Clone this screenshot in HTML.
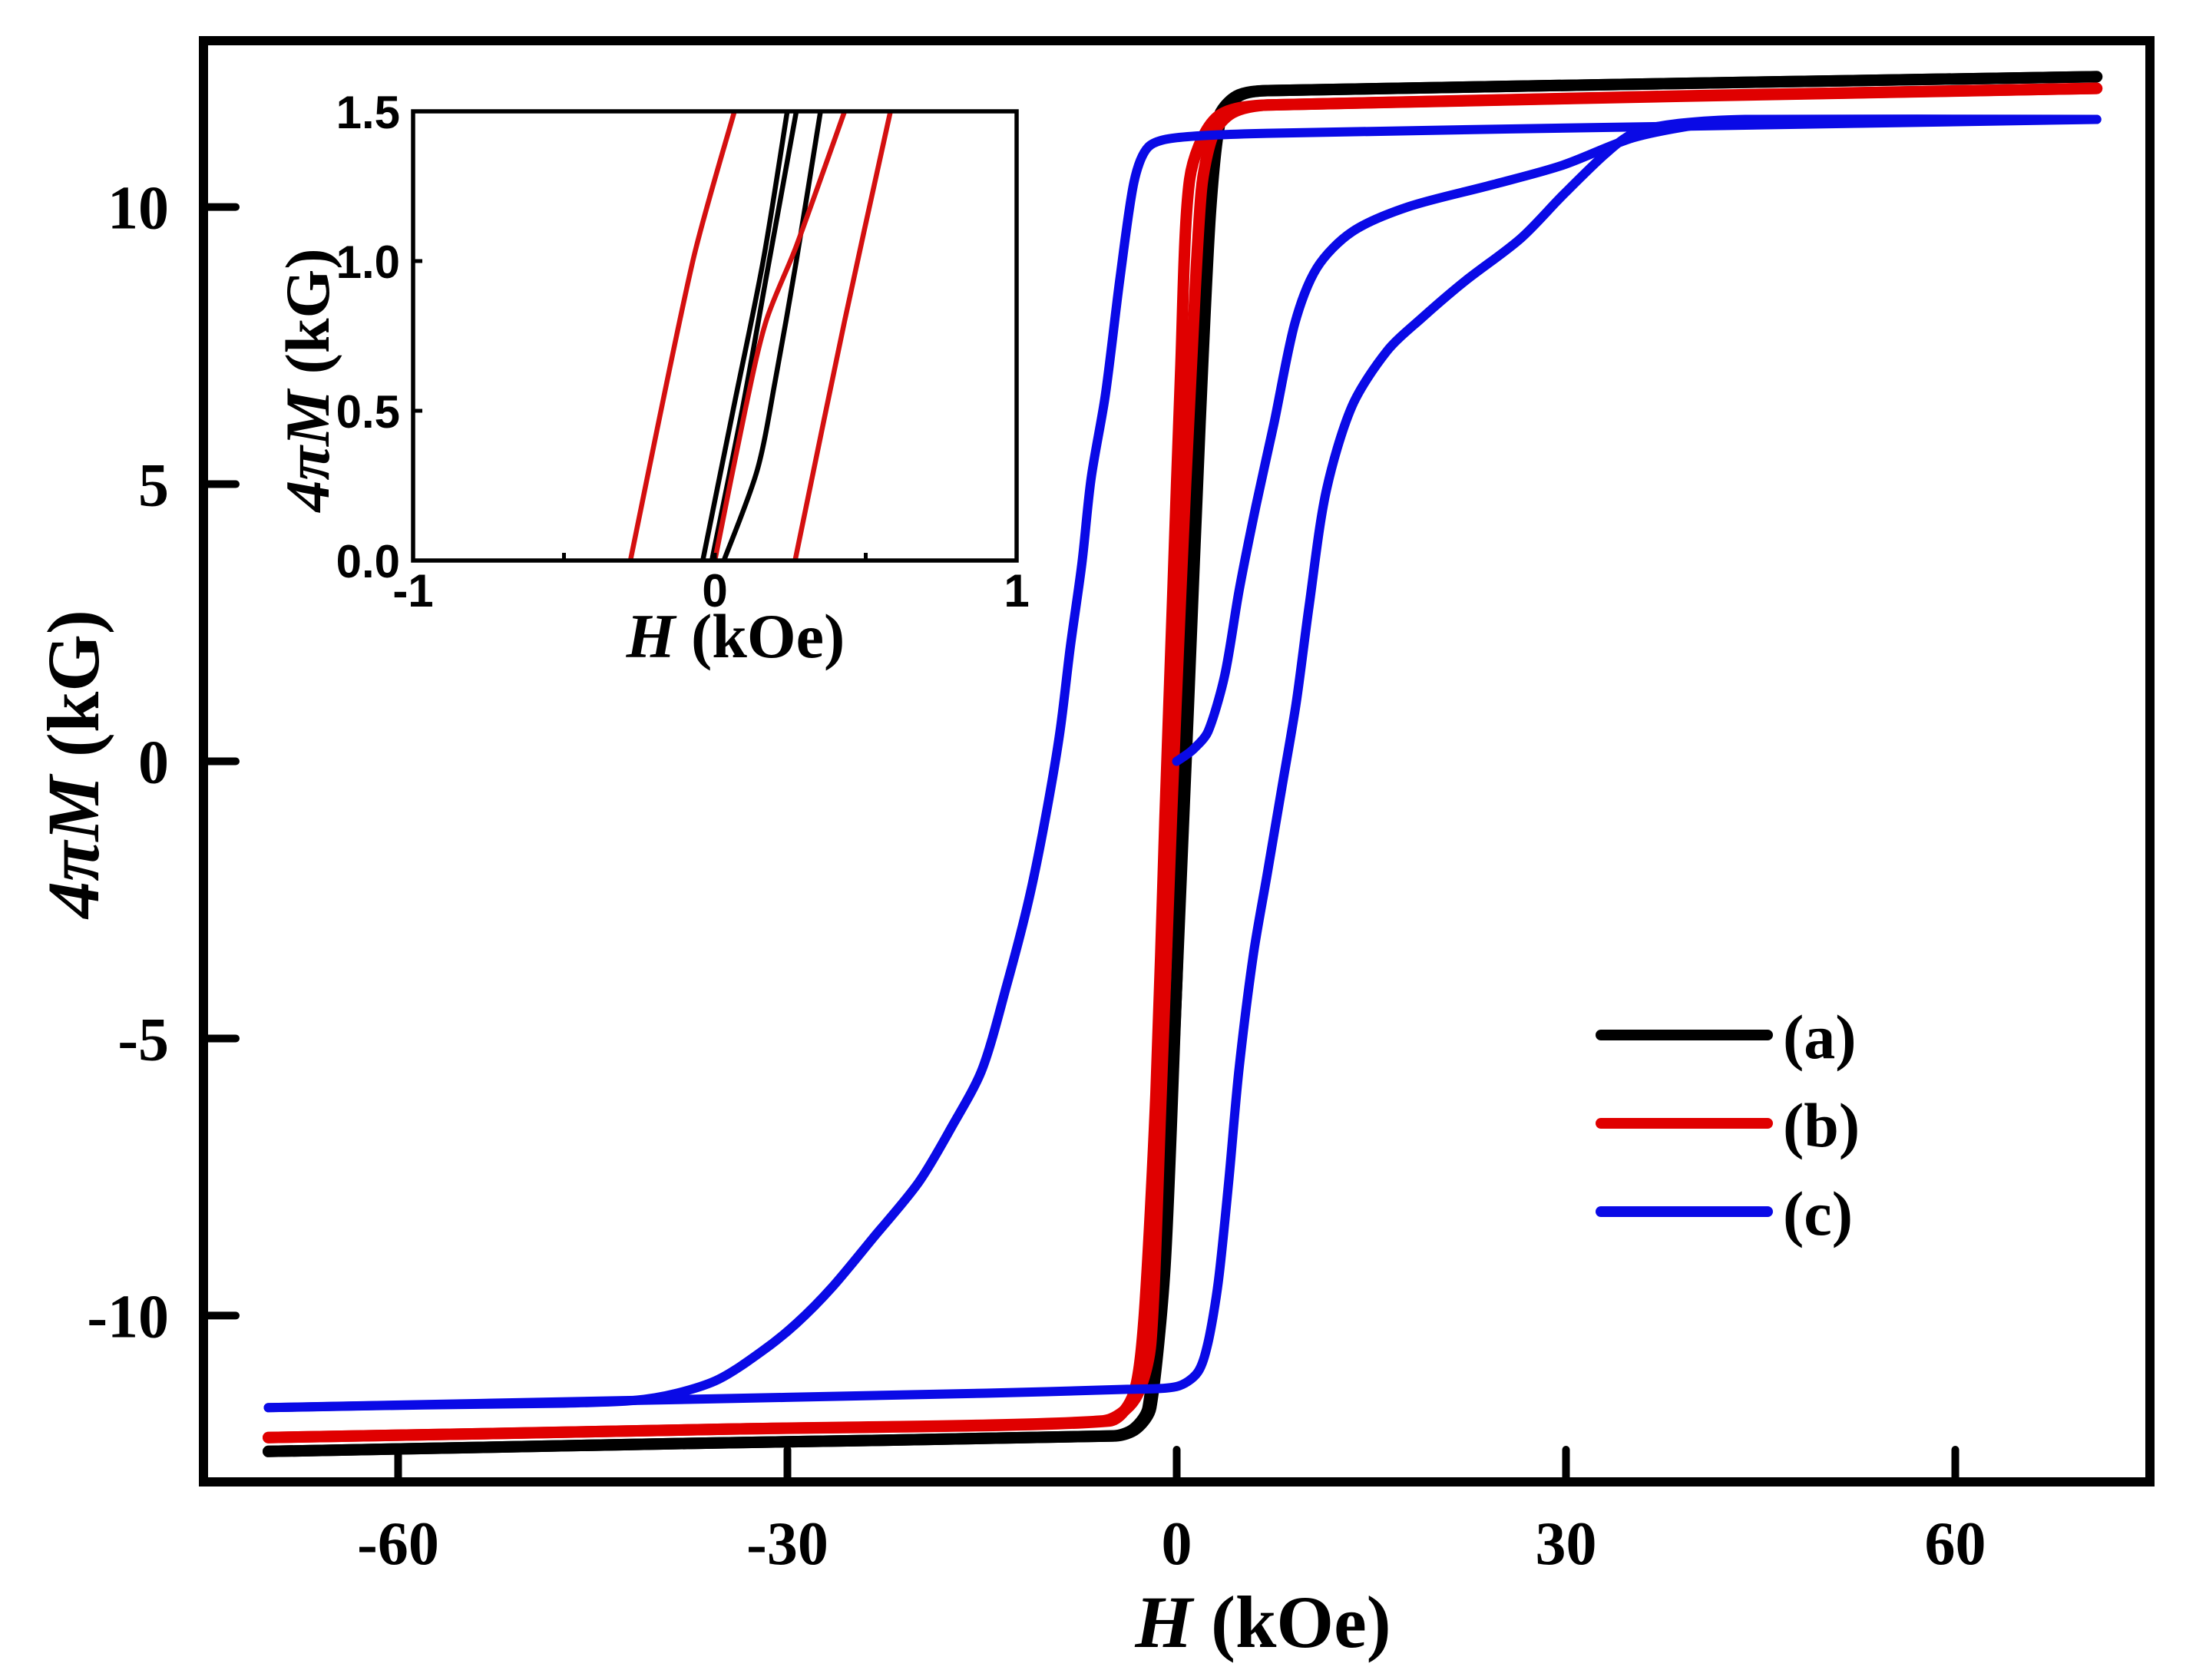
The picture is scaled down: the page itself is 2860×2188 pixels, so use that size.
<!DOCTYPE html>
<html><head><meta charset="utf-8">
<style>
html,body{margin:0;padding:0;background:#fff;}
svg{display:block;}
text{font-family:"Liberation Serif",serif;font-weight:bold;fill:#000;}
.sans{font-family:"Liberation Sans",sans-serif;}
</style></head>
<body>
<svg id="chart" width="2860" height="2188" viewBox="0 0 2860 2188" xmlns="http://www.w3.org/2000/svg">
<g id="main-curves"></g>
<g id="axes"></g>
<g id="inset"></g>
<g id="legend"></g>
</svg>
<script>
// ---- main chart data (H in kOe, 4πM in kG) ----
const xTicks = [-60, -30, 0, 30, 60];
const xTickLabels = ["-60", "-30", "0", "30", "60"];
const yTicks = [-10, -5, 0, 5, 10];
const yTickLabels = ["-10", "-5", "0", "5", "10"];

const aDownH = [70.9, 7, 4.6, 3.2, 2.4, 1.6, 0.7, 0, -1.1, -2.2, -3.3, -4.9, -36.3, -70];
const aDownM = [12.35, 12.1, 12.0, 11.6, 9.9, 6.1, 1.0, -4.0, -9.1, -11.66, -12.04, -12.17, -12.3, -12.45];
const aUpH = [-70, -36.3, -4.7, -3.1, -2.0, -0.9, 0.0, 0.9, 1.8, 2.6, 3.4, 4.8, 7, 70.9];
const aUpM = [-12.45, -12.3, -12.17, -12.04, -11.66, -9.1, -4.0, 1.0, 6.1, 9.9, 11.6, 12.0, 12.1, 12.35];

const bDownH = [70.9, 7, 3.0, 1.0, 0.3, -0.3, -0.9, -1.6, -2.5, -3.3, -5.2, -35, -70];
const bDownM = [12.14, 11.84, 11.6, 10.5, 7, 3, -1, -6, -10, -11.4, -11.9, -12.05, -12.2];
const bUpH = [-70, -35, -5.7, -3.2, -2.0, -1.2, -0.4, 0.3, 1.1, 1.9, 2.8, 4.3, 7, 70.9];
const bUpM = [-12.2, -12.05, -11.9, -11.5, -10.5, -6, -1, 3, 7, 10.3, 11.3, 11.7, 11.84, 12.14];

const cVirginH = [0, 1.2, 2.4, 3.7, 4.8, 6.1, 7.5, 9.1, 10.8, 13.5, 17.8, 24.3, 29.7, 35.2, 40.6, 43.8];
const cVirginM = [0, 0.2, 0.53, 1.55, 3.07, 4.6, 6.1, 7.9, 8.9, 9.55, 10.0, 10.4, 10.75, 11.25, 11.5, 11.56];
const cDownH = [70.9, 39.5, 7, 0, -2.2, -3.3, -4.4, -5.5, -6.6, -7.3, -8.2, -9.0, -10.1, -11.4, -13.1, -15.0, -17.3, -19.9, -23.4, -26.6, -29.3, -32, -35.3, -38.5, -41.8, -47.2, -58, -70];
const cDownM = [11.58, 11.46, 11.33, 11.25, 11.08, 10.44, 8.66, 6.6, 5.1, 3.58, 2.06, 0.53, -1.0, -2.5, -4.04, -5.56, -6.58, -7.6, -8.6, -9.5, -10.14, -10.65, -11.15, -11.4, -11.53, -11.58, -11.61, -11.66];
const cUpH = [-70, -41.8, -14.7, -3.8, 0, 1.6, 2.4, 3.2, 4, 4.8, 5.9, 7, 8.1, 9.2, 10.2, 11.5, 13.5, 16.2, 18.9, 22.2, 26.5, 29.7, 33, 35.2, 38.4, 43.8, 70.9];
const cUpM = [-11.66, -11.53, -11.4, -11.33, -11.28, -11.03, -10.5, -9.4, -7.6, -5.56, -3.5, -2.0, -0.48, 1.04, 2.8, 4.85, 6.4, 7.4, 8.0, 8.66, 9.43, 10.2, 10.95, 11.33, 11.5, 11.58, 11.58];

// ---- inset data ----
const insetXTicks = [-1, 0, 1];
const insetXTickLabels = ["-1", "0", "1"];
const insetYTicks = [0, 0.5, 1.0, 1.5];
const insetYTickLabels = ["0.0", "0.5", "1.0", "1.5"];
const inB1H = [-0.04, 0.06, 0.16, 0.24];
const inB1M = [0, 0.5, 1.0, 1.5];
const inB2H = [-0.01, 0.09, 0.18, 0.27];
const inB2M = [0, 0.5, 1.0, 1.5];
const inB3H = [0.03, 0.14, 0.2, 0.27, 0.35];
const inB3M = [0, 0.3, 0.6, 1.0, 1.5];
const inR1H = [-0.28, -0.073, 0.065];
const inR1M = [0, 1.0, 1.5];
const inR2H = [0.266, 0.43, 0.582];
const inR2M = [0, 0.8, 1.5];
const inR3H = [0.0, 0.1, 0.17, 0.27, 0.43];
const inR3M = [0, 0.5, 0.8, 1.05, 1.5];

const NS = "http://www.w3.org/2000/svg";
function mk(tag, attrs, parent) {
  const e = document.createElementNS(NS, tag);
  for (const k in attrs) e.setAttribute(k, attrs[k]);
  parent.appendChild(e);
  return e;
}
const PL = 265, PR = 2800, PT = 53, PB = 1930;
const XMIN = -75, XMAX = 75, YMIN = -13, YMAX = 13;
function sx(v) { return PL + (v - XMIN) / (XMAX - XMIN) * (PR - PL); }
function sy(v) { return PB - (v - YMIN) / (YMAX - YMIN) * (PB - PT); }
// smooth path with clamped tangents (no overshoot)
function clampVec(v, maxLen) {
  const l = Math.hypot(v[0], v[1]);
  if (l > maxLen && l > 0) return [v[0] * maxLen / l, v[1] * maxLen / l];
  return v;
}
function smoothPath(H, M, fx, fy) {
  const P = H.map((h, i) => [fx(h), fy(M[i])]);
  let d = "M" + P[0][0].toFixed(1) + "," + P[0][1].toFixed(1);
  for (let i = 0; i < P.length - 1; i++) {
    const p0 = P[i - 1] || P[i], p1 = P[i], p2 = P[i + 1], p3 = P[i + 2] || P[i + 1];
    const seg = Math.hypot(p2[0] - p1[0], p2[1] - p1[1]);
    const t1 = clampVec([(p2[0] - p0[0]) / 6, (p2[1] - p0[1]) / 6], seg * 0.3);
    const t2 = clampVec([(p3[0] - p1[0]) / 6, (p3[1] - p1[1]) / 6], seg * 0.3);
    const c1 = [p1[0] + t1[0], p1[1] + t1[1]];
    const c2 = [p2[0] - t2[0], p2[1] - t2[1]];
    d += " C" + c1[0].toFixed(1) + "," + c1[1].toFixed(1) + " " + c2[0].toFixed(1) + "," + c2[1].toFixed(1) + " " + p2[0].toFixed(1) + "," + p2[1].toFixed(1);
  }
  return d;
}

const mc = document.getElementById("main-curves");
const series = [
  ["a-descending-curve", aDownH, aDownM, "#000", 15],
  ["a-ascending-curve", aUpH, aUpM, "#000", 15],
  ["b-descending-curve", bDownH, bDownM, "#e00000", 15],
  ["b-ascending-curve", bUpH, bUpM, "#e00000", 15],
  ["c-virgin-curve", cVirginH, cVirginM, "#0a0ae6", 12],
  ["c-descending-curve", cDownH, cDownM, "#0a0ae6", 12],
  ["c-ascending-curve", cUpH, cUpM, "#0a0ae6", 12]
];
series.forEach(s => {
  const p = mk("path", {d: smoothPath(s[1], s[2], sx, sy), fill: "none", stroke: s[3], "stroke-width": s[4], "stroke-linejoin": "round", "stroke-linecap": "round"}, mc);
  
  
});

const ax = document.getElementById("axes");
const frame = mk("rect", {x: PL, y: PT, width: PR - PL, height: PB - PT, fill: "none", stroke: "#000", "stroke-width": 12}, ax);


xTicks.forEach((v, i) => {
  const t = mk("line", {x1: sx(v), x2: sx(v), y1: PB, y2: PB - 42, stroke: "#000", "stroke-width": 10, "stroke-linecap": "round"}, ax);
  
  
  const l = mk("text", {x: sx(v), y: 2037, "text-anchor": "middle", "font-size": 80}, ax);
  l.textContent = xTickLabels[i];
  
  
});
yTicks.forEach((v, i) => {
  const t = mk("line", {x1: PL, x2: PL + 42, y1: sy(v), y2: sy(v), stroke: "#000", "stroke-width": 10, "stroke-linecap": "round"}, ax);
  
  
  const l = mk("text", {x: 220, y: sy(v) + 28, "text-anchor": "end", "font-size": 80}, ax);
  l.textContent = yTickLabels[i];
  
  
});
const xt = mk("text", {x: 1645, y: 2145, "text-anchor": "middle", "font-size": 96}, ax);
xt.innerHTML = '<tspan font-style="italic">H</tspan> (kOe)';


const yt = mk("text", {x: 0, y: 0, "text-anchor": "middle", "font-size": 96, transform: "translate(128,995) rotate(-90)"}, ax);
yt.innerHTML = '<tspan font-style="italic">4πM</tspan> (kG)';



// inset
const IL = 538, IR = 1324, IT = 145, IB = 730;
function ix(v) { return IL + (v + 1) / 2 * (IR - IL); }
function iy(v) { return IB - v / 1.5 * (IB - IT); }
const ins = document.getElementById("inset");
const bg = mk("rect", {x: IL, y: IT, width: IR - IL, height: IB - IT, fill: "#fff"}, ins);


const defs = mk("defs", {}, ins);
const cp = mk("clipPath", {id: "iclip"}, defs);
mk("rect", {x: IL, y: IT, width: IR - IL, height: IB - IT}, cp);
const ig = mk("g", {"clip-path": "url(#iclip)"}, ins);
const inSeries = [
  ["inset-a-curve-1", inB1H, inB1M, "#000"],
  ["inset-a-curve-2", inB2H, inB2M, "#000"],
  ["inset-a-curve-3", inB3H, inB3M, "#000"],
  ["inset-b-curve-1", inR1H, inR1M, "#d41010"],
  ["inset-b-curve-2", inR2H, inR2M, "#d41010"],
  ["inset-b-curve-3", inR3H, inR3M, "#d41010"]
];
inSeries.forEach(s => {
  const p = mk("path", {d: smoothPath(s[1], s[2], ix, iy), fill: "none", stroke: s[3], "stroke-width": 6.5, "stroke-linejoin": "round"}, ig);
  
  
});
const iframe = mk("rect", {x: IL, y: IT, width: IR - IL, height: IB - IT, fill: "none", stroke: "#000", "stroke-width": 5.5}, ins);


[-0.5, 0, 0.5].forEach(v => {
  const t = mk("line", {x1: ix(v), x2: ix(v), y1: IB, y2: IB - 10, stroke: "#000", "stroke-width": 5}, ins);
  
  
});
insetXTicks.forEach((v, i) => {
  const l = mk("text", {x: ix(v), y: 790, "text-anchor": "middle", "font-size": 60, class: "sans"}, ins);
  l.textContent = insetXTickLabels[i];
  
  
});
insetYTicks.forEach((v, i) => {
  const t = mk("line", {x1: IL, x2: IL + 12, y1: iy(v), y2: iy(v), stroke: "#000", "stroke-width": 5}, ins);
  
  
  const l = mk("text", {x: 521, y: iy(v) + 22, "text-anchor": "end", "font-size": 60, class: "sans"}, ins);
  l.textContent = insetYTickLabels[i];
  
  
});
const ixt = mk("text", {x: 958, y: 856, "text-anchor": "middle", "font-size": 82}, ins);
ixt.innerHTML = '<tspan font-style="italic">H</tspan> (kOe)';


const iyt = mk("text", {x: 0, y: 0, "text-anchor": "middle", "font-size": 82, transform: "translate(428,495) rotate(-90)"}, ins);
iyt.innerHTML = '<tspan font-style="italic">4πM</tspan> (kG)';



// legend
const lg = document.getElementById("legend");
const legendLabels = ["(a)", "(b)", "(c)"];
const legendColors = ["#000", "#e00000", "#0a0ae6"];
const legendY = [1348, 1463, 1578];
legendLabels.forEach((lab, i) => {
  const g = mk("g", {}, lg);
  
  
  const ln = mk("line", {x1: 2085, x2: 2302, y1: legendY[i], y2: legendY[i], stroke: legendColors[i], "stroke-width": 14, "stroke-linecap": "round"}, g);
  
  
  const t = mk("text", {x: 2322, y: legendY[i] + 30, "font-size": 82}, g);
  t.textContent = lab;
  
  
});
</script>
</body></html>
